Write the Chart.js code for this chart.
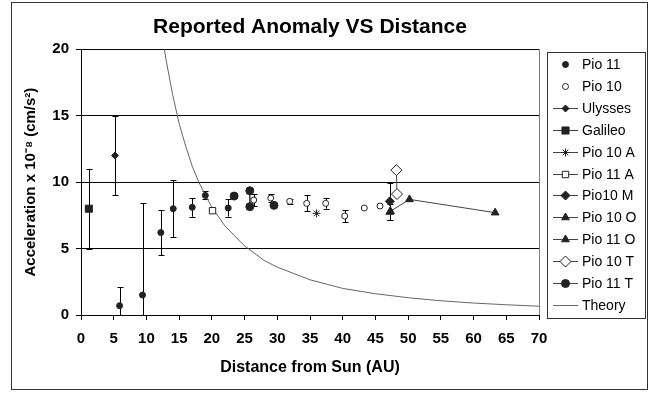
<!DOCTYPE html>
<html lang="en">
<head>
  <meta charset="UTF-8">
  <title>Reported Anomaly VS Distance</title>
  <style>
    html, body { margin: 0; padding: 0; background: #fff; }
    #wrap { width: 650px; height: 393px; }
  </style>
</head>
<body>
  <div id="wrap"><canvas id="myChart"></canvas></div>
  <script src="https://cdn.jsdelivr.net/npm/chart.js@4/dist/chart.umd.min.js"></script>
  <script>
    // each point: [distance (AU), acceleration, error]
    const pio11 = [[5.9, 0.7, 1.4], [9.4, 1.5, 6.9], [12.2, 6.2, 1.7], [14.1, 8.0, 2.15], [17.0, 8.1, 0.7], [19.0, 9.0, 0.3], [22.5, 8.05, 0.65]]
    const pio10 = [[26.4, 8.65, 0.45], [29.0, 8.8, 0.3], [31.9, 8.55, 0.2], [34.5, 8.4, 0.6], [37.4, 8.4, 0.4], [40.3, 7.45, 0.45], [43.3, 8.05, 0], [45.7, 8.2, 0]]
    const ulysses = [[5.2, 12, 3]]
    const galileo = [[1.2, 8, 3]]
    const pio10A = [[36.0, 7.65, 0]]
    const pio11A = [[20.1, 7.85, 0]]
    const pio10M = [[47.2, 8.55, 1.4]]
    const pio10O = [[47.2, 7.75, 0.6]]
    const pio11O = [[47.3, 7.8, 0], [50.2, 8.7, 0], [63.3, 7.7, 0]]
    const pio10T = [[48.2, 10.9, 0], [48.3, 9.1, 0]]
    const pio11T = [[23.4, 8.95, 0], [24, null, 0], [25.8, 9.35, 0], [25.8, 8.15, 0], [27, null, 0], [29.5, 8.25, 0]]
    const theoryX = [12.7, 13, 14, 15, 16, 17, 18, 20, 22, 25, 28, 30, 35, 40, 45, 50, 55, 60, 65, 70]
    const theoryY = [20.1, 19.2, 16.6, 14.4, 12.7, 11.2, 10.0, 8.1, 6.7, 5.2, 4.1, 3.6, 2.65, 2.0, 1.6, 1.3, 1.07, 0.9, 0.77, 0.66]

    const FONT = '"Liberation Sans", Arial, sans-serif'
    const INK = '#222'

    function series(label, rows, style, radius, fill, line) {
      return {
        label: label,
        data: rows.map(r => ({ x: r[0], y: r[1] })),
        errors: rows.map(r => r[2]),
        pointStyle: style,
        pointRadius: radius,
        pointHoverRadius: radius,
        pointBackgroundColor: fill,
        pointBorderColor: INK,
        pointBorderWidth: 1,
        borderColor: '#444',
        borderWidth: 1,
        showLine: line,
        spanGaps: false
      }
    }

    const datasets = [
      series('Pio 11', pio11, 'circle', 3, INK, false),
      series('Pio 10', pio10, 'circle', 3, '#fff', false),
      series('Ulysses', ulysses, 'rectRot', 3.5, INK, true),
      series('Galileo', galileo, 'rect', 5, INK, true),
      series('Pio 10 A', pio10A, 'star', 4, '#fff', true),
      series('Pio 11 A', pio11A, 'rect', 4.5, '#fff', true),
      series('Pio10 M', pio10M, 'rectRot', 4.5, INK, true),
      series('Pio 10 O', pio10O, 'triangle', 4.5, INK, true),
      series('Pio 11 O', pio11O, 'triangle', 4.5, INK, true),
      series('Pio 10 T', pio10T, 'rectRot', 5.5, '#fff', true),
      series('Pio 11 T', pio11T, 'circle', 4, INK, true),
      {
        label: 'Theory',
        data: theoryX.map((x, i) => ({ x: x, y: theoryY[i] })),
        errors: [],
        pointRadius: 0,
        borderColor: '#666',
        borderWidth: 1,
        showLine: true
      }
    ]

    const frame = {
      id: 'frame',
      beforeDraw(chart) {
        const ctx = chart.ctx
        ctx.save()
        ctx.fillStyle = '#fff'
        ctx.fillRect(0, 0, chart.width, chart.height)
        ctx.strokeStyle = '#333'
        ctx.lineWidth = 1
        ctx.strokeRect(11.5, 2.5, 636, 387)
        ctx.restore()
      },
      afterDraw(chart) {
        const ctx = chart.ctx
        const a = chart.chartArea
        ctx.save()
        ctx.strokeStyle = '#808080'
        ctx.beginPath()
        ctx.moveTo(Math.round(a.right) + 0.5, a.top)
        ctx.lineTo(Math.round(a.right) + 0.5, a.bottom)
        ctx.stroke()
        ctx.restore()
      }
    }

    const errorBars = {
      id: 'errorBars',
      beforeDatasetsDraw(chart) {
        const ctx = chart.ctx
        const a = chart.chartArea
        const xs = chart.scales.x
        const ys = chart.scales.y
        ctx.save()
        ctx.beginPath()
        ctx.rect(a.left, a.top, a.right - a.left, a.bottom - a.top)
        ctx.clip()
        ctx.strokeStyle = '#000'
        ctx.lineWidth = 1
        chart.data.datasets.forEach(ds => {
          ds.data.forEach((p, i) => {
            const e = ds.errors[i]
            if (!e || p.y === null) return
            const px = Math.round(xs.getPixelForValue(p.x)) + 0.5
            const top = ys.getPixelForValue(p.y + e)
            const bot = ys.getPixelForValue(p.y - e)
            ctx.beginPath()
            ctx.moveTo(px, top)
            ctx.lineTo(px, bot)
            ctx.moveTo(px - 3, Math.round(top) + 0.5)
            ctx.lineTo(px + 3, Math.round(top) + 0.5)
            ctx.moveTo(px - 3, Math.round(bot) + 0.5)
            ctx.lineTo(px + 3, Math.round(bot) + 0.5)
            ctx.stroke()
          })
        })
        ctx.restore()
      }
    }

    const legendBox = {
      id: 'legendBox',
      afterDraw(chart) {
        const ctx = chart.ctx
        ctx.save()
        ctx.fillStyle = '#fff'
        ctx.fillRect(547, 52, 98, 266)
        ctx.strokeStyle = '#333'
        ctx.lineWidth = 1
        ctx.strokeRect(547.5, 52.5, 98, 266)
        ctx.font = '14px ' + FONT
        ctx.textBaseline = 'middle'
        chart.data.datasets.forEach((ds, i) => {
          const y = Math.round(64 + i * 21.9) + 0.5
          if (ds.showLine) {
            ctx.strokeStyle = ds.borderColor
            ctx.beginPath()
            ctx.moveTo(553, y)
            ctx.lineTo(578, y)
            ctx.stroke()
          }
          if (ds.pointRadius) {
            ctx.fillStyle = ds.pointBackgroundColor
            ctx.strokeStyle = ds.pointBorderColor
            ctx.lineWidth = 1
            Chart.helpers.drawPoint(ctx, { pointStyle: ds.pointStyle, radius: ds.pointRadius, borderWidth: 1, rotation: 0 }, 565.5, y)
          }
          ctx.fillStyle = '#000'
          ctx.fillText(ds.label, 582, y + 1)
        })
        ctx.restore()
      }
    }

    function drawChart() {
      const context = document.querySelector('#myChart').getContext('2d')
      new Chart(context, {
        type: 'scatter',
        data: { datasets: datasets },
        plugins: [frame, errorBars, legendBox],
        options: {
          responsive: true,
          maintainAspectRatio: false,
          animation: false,
          layout: { padding: { left: 12, right: 111, top: 0, bottom: 3 } },
          plugins: {
            legend: { display: false },
            tooltip: { enabled: false },
            title: {
              display: true,
              fullSize: false,
              text: 'Reported Anomaly VS Distance',
              color: '#000',
              font: { family: FONT, size: 21, weight: 'bold' },
              padding: { top: 15, bottom: 9 }
            }
          },
          scales: {
            x: {
              type: 'linear',
              min: 0,
              max: 70,
              afterFit: s => { s.height = 75 },
              ticks: { stepSize: 5, color: '#000', font: { family: FONT, size: 15, weight: 'bold' }, padding: 10, maxRotation: 0 },
              grid: { drawOnChartArea: false, tickLength: 5, color: '#000' },
              border: { color: '#000' },
              title: {
                display: true,
                text: 'Distance from Sun (AU)',
                color: '#000',
                font: { family: FONT, size: 16, weight: 'bold' },
                padding: { top: 0, bottom: 13 }
              }
            },
            y: {
              min: 0,
              max: 20,
              afterFit: s => { s.width = 69 },
              ticks: { stepSize: 5, color: '#000', font: { family: FONT, size: 15, weight: 'bold' }, padding: 7 },
              grid: { color: '#000', tickLength: 5 },
              border: { color: '#000' },
              title: {
                display: true,
                text: 'Acceleration x 10⁻⁸ (cm/s²)',
                color: '#000',
                font: { family: FONT, size: 15, weight: 'bold' },
                padding: { top: 10, bottom: 0 }
              }
            }
          }
        }
      })
    }

    window.onload = () => {
      drawChart()
    }
  </script>
</body>
</html>
